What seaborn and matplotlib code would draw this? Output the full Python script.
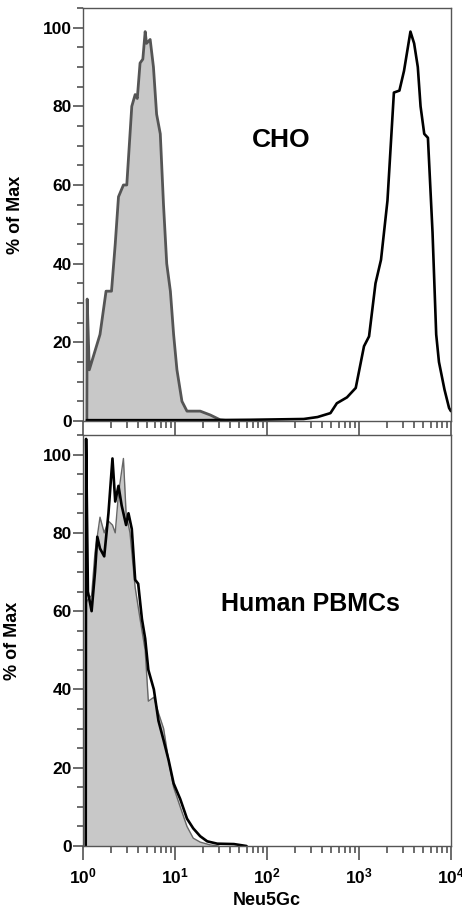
import numpy as np
import matplotlib
matplotlib.use("Agg")
import matplotlib.pyplot as plt
import seaborn as sns
from matplotlib.ticker import LogLocator, NullFormatter, MultipleLocator

# CHO panel: unstained control (grey fill) and Neu5Gc stain (black)
cho_ctrl_x = [1.10, 1.11, 1.17, 1.53, 1.78, 2.04, 2.24, 2.43, 2.75, 2.99, 3.39, 3.69,
              3.89, 4.17, 4.47, 4.74, 4.90, 5.37, 5.83, 6.31, 6.92, 7.50, 8.13, 8.91,
              9.66, 10.5, 11.9, 13.5, 18.8, 24.3, 30.9, 40.0]
cho_ctrl_y = [0, 31, 13, 22, 33, 33, 45, 57, 60, 60, 80, 83,
              82, 91, 92, 99, 96, 97, 90, 78, 73, 55, 40, 33,
              22, 13, 5, 2.5, 2.5, 1.5, 0.3, 0]
cho_stain_x = [1.10, 20, 66, 251, 355, 490, 575, 741, 923, 1135, 1288, 1514, 1738,
               2042, 2399, 2754, 3090, 3631, 3981, 4365, 4677, 5129, 5623, 6310,
               6918, 7413, 8511, 9550, 10000]
cho_stain_y = [0.2, 0.2, 0.3, 0.5, 1, 2, 4.5, 6, 8.4, 19, 21.5, 35, 41,
               56, 83.5, 84, 89, 99, 96, 90, 80, 73, 72, 48,
               22, 15, 8, 3.3, 2.5]

# Human PBMC panel
pbmc_ctrl_x = [1.07, 1.08, 1.13, 1.24, 1.35, 1.53, 1.70, 1.89, 2.09, 2.24, 2.43, 2.75,
               2.94, 3.24, 3.69, 4.17, 4.74, 5.13, 5.89, 6.61, 7.52, 8.51, 9.66,
               11.4, 13.5, 15.8, 18.8, 24.0, 30.0]
pbmc_ctrl_y = [0, 62, 63, 64, 75, 84, 80, 83, 82, 80, 90, 99,
               85, 80, 66, 58, 50, 37, 38, 34, 30, 22, 15,
               10, 5, 2, 1, 0.3, 0]
pbmc_stain_x = [1.07, 1.08, 1.13, 1.24, 1.35, 1.43, 1.53, 1.70, 1.89, 2.09, 2.24, 2.43,
                2.63, 2.94, 3.12, 3.39, 3.69, 3.98, 4.37, 4.74, 5.13, 5.89, 6.61,
                7.52, 8.51, 9.66, 11.4, 13.5, 15.8, 18.8, 22.4, 28.8, 43.7, 60.0]
pbmc_stain_y = [0, 104, 65, 60, 70, 79, 76, 74, 85, 99, 88, 92,
                87, 82, 85, 81, 68, 67, 58, 53, 45, 40, 32,
                27, 22, 16, 12, 7, 4.5, 2.5, 1.2, 0.6, 0.5, 0]

y_ticks = [0, 20, 40, 60, 80, 100]
x_ticks = [1, 10, 100, 1000, 10000]
x_labels = [r"$\mathbf{10^{0}}$", r"$\mathbf{10^{1}}$", r"$\mathbf{10^{2}}$",
            r"$\mathbf{10^{3}}$", r"$\mathbf{10^{4}}$"]

sns.set_style("ticks")
plt.rcParams["font.family"] = ["Liberation Sans", "DejaVu Sans"]
plt.rcParams["mathtext.fontset"] = "custom"
plt.rcParams["mathtext.rm"] = "Liberation Sans"
plt.rcParams["mathtext.bf"] = "Liberation Sans:bold"
plt.rcParams["text.color"] = "black"
plt.rcParams["axes.labelcolor"] = "black"
plt.rcParams["xtick.labelcolor"] = "black"
plt.rcParams["ytick.labelcolor"] = "black"

fig = plt.figure(figsize=(4.62, 9.10), dpi=100)
ax_top = fig.add_axes([0.1797, 0.5374, 0.7963, 0.4538])
ax_bot = fig.add_axes([0.1797, 0.0703, 0.7963, 0.4517])


def style_axis(ax, show_xlabels):
    ax.set_xscale("log")
    ax.set_xlim(1, 1e4)
    ax.set_ylim(0, 105)
    ax.set_yticks(y_ticks)
    ax.yaxis.set_minor_locator(MultipleLocator(5))
    ax.set_xticks(x_ticks)
    ax.xaxis.set_minor_locator(LogLocator(base=10, subs=np.arange(2, 10), numticks=50))
    ax.xaxis.set_minor_formatter(NullFormatter())
    for s in ax.spines.values():
        s.set_color("#555555")
        s.set_linewidth(1.0)
    ax.tick_params(axis="x", which="major", length=10, width=1.1, color="#444444", pad=5)
    ax.tick_params(axis="x", which="minor", length=5, width=1.1, color="#444444")
    ax.tick_params(axis="y", which="major", length=7, width=1.1, color="#444444", pad=1)
    ax.tick_params(axis="y", which="minor", length=4, width=1.1, color="#444444")
    ax.tick_params(axis="y", labelsize=12.5)
    for lab in ax.get_yticklabels():
        lab.set_fontweight("bold")
    if show_xlabels:
        ax.set_xticklabels(x_labels, fontsize=12.5)
    else:
        ax.tick_params(axis="x", labelbottom=False)
    ax.set_ylabel("% of Max", fontsize=13, fontweight="bold")
    ax.set_xlabel("")


# top panel: CHO
ax_top.fill_between(cho_ctrl_x, cho_ctrl_y, color="#c8c8c8", linewidth=0)
sns.lineplot(x=cho_ctrl_x, y=cho_ctrl_y, ax=ax_top, color="#555555", linewidth=2.0,
             sort=False, estimator=None)
sns.lineplot(x=cho_stain_x, y=cho_stain_y, ax=ax_top, color="black", linewidth=1.9,
             sort=False, estimator=None)
style_axis(ax_top, False)
ax_top.yaxis.set_label_coords(-0.16, 0.5)
ax_top.text(0.538, 0.68, "CHO", transform=ax_top.transAxes, fontsize=19,
            fontweight="bold", ha="center", va="center", color="black")

# bottom panel: Human PBMCs
ax_bot.fill_between(pbmc_ctrl_x, pbmc_ctrl_y, color="#c8c8c8", linewidth=0)
sns.lineplot(x=pbmc_ctrl_x, y=pbmc_ctrl_y, ax=ax_bot, color="#666666", linewidth=1.0,
             sort=False, estimator=None)
sns.lineplot(x=pbmc_stain_x, y=pbmc_stain_y, ax=ax_bot, color="black", linewidth=1.9,
             sort=False, estimator=None)
style_axis(ax_bot, True)
ax_bot.yaxis.set_label_coords(-0.168, 0.5)
ax_bot.set_xlabel("Neu5Gc", fontsize=13, fontweight="bold", labelpad=4)
ax_bot.text(0.617, 0.59, "Human PBMCs", transform=ax_bot.transAxes, fontsize=18,
            fontweight="bold", ha="center", va="center", color="black")

fig.savefig("out.png", dpi=100)
